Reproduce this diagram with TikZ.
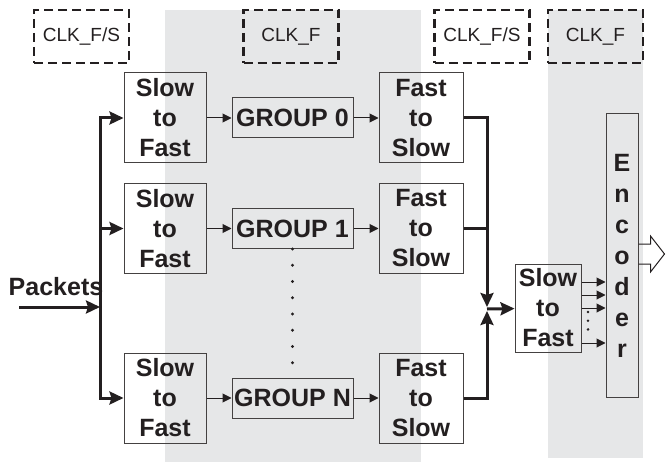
\documentclass[tikz,border=0pt]{standalone}
\usepackage{fontspec}
\setmainfont{Liberation Sans}
\usetikzlibrary{positioning,arrows.meta,calc}
\definecolor{fondo}{HTML}{E6E7E8}
\definecolor{tinta}{HTML}{231F20}

\begin{document}
\begin{tikzpicture}[x=1pt, y=-1pt, tinta,
      b/.style={draw=tinta!85, line width=1pt, inner sep=0pt, align=center,
                font=\fontsize{25}{30}\selectfont\bfseries},
      sf/.style={b, minimum width=82pt, minimum height=90pt},
      gp/.style={b, minimum width=121pt, minimum height=40pt},
      clk/.style={draw, dash pattern=on 9pt off 5pt, line width=2.5pt, minimum width=95pt,
                  minimum height=53pt, font=\fontsize{19}{22}\selectfont},
      fl/.style={-{Triangle[length=9pt,width=9pt]}, line width=1pt},
      gr/.style={-{Stealth[length=14pt,width=13pt,inset=2pt]}, line width=3pt}]
    \useasboundingbox (0,0) rectangle (669,465);
    \fill[fondo] (165,10) rectangle (421,462);
    \fill[fondo] (548,10) rectangle (643,458);

    \node[clk] (c1) at (81.5,36.5) {CLK\_F/S};
    \node[clk] (c2) at (291,36.5) {CLK\_F};
    \node[clk] (c3) at (482,36.5) {CLK\_F/S};
    \node[clk] (c4) at (595.5,36.5) {CLK\_F};

    \node[sf] (sf0) at (165,118) {Slow\\to\\Fast};
    \node[gp, right=25pt of sf0] (g0) {GROUP 0};
    \node[sf, right=25pt of g0, minimum width=84pt] (fs0) {Fast\\to\\Slow};
    \node[sf] (sf1) at (165,228.5) {Slow\\to\\Fast};
    \node[gp, right=25pt of sf1] (g1) {GROUP 1};
    \node[sf, right=25pt of g1, minimum width=84pt] (fs1) {Fast\\to\\Slow};
    \node[sf] (sfN) at (165,398) {Slow\\to\\Fast};
    \node[gp, right=25pt of sfN] (gN) {GROUP N};
    \node[sf, right=25pt of gN, minimum width=84pt] (fsN) {Fast\\to\\Slow};

    \node[sf, minimum width=66pt, minimum height=88pt] (sf2) at (548,308) {Slow\\to\\Fast};
    \node[b, minimum width=32pt, minimum height=283pt,
          font=\fontsize{25}{31}\selectfont\bfseries] (enc) at (622,255.5) {E\\n\\c\\o\\d\\e\\r};

    \node[font=\fontsize{25}{30}\selectfont\bfseries] (pk) at (56,287) {Packets};
    \coordinate (pin) at (19,307);
    \coordinate (bus) at (100,307);
    \draw[gr] (pin) -- (bus);
    \draw[gr] (bus) |- (sf0);
    \draw[gr] (bus) |- (sfN);
    \draw[gr] (bus |- sf1) -- (sf1);

    \draw[fl] (sf0) -- (g0);
    \draw[fl] (g0) -- (fs0);
    \draw[fl] (sf1) -- (g1);
    \draw[fl] (g1) -- (fs1);
    \draw[fl] (sfN) -- (gN);
    \draw[fl] (gN) -- (fsN);
    \draw[line width=3.2pt, line cap=round, dash pattern=on 0pt off 16.25pt] (g1.south) -- (gN.north);

    \coordinate (m) at (487,309);
    \draw[gr] (fs0) -| ([yshift=2pt]m);
    \draw[gr] (fsN) -| ([yshift=-2pt]m);
    \draw[line width=3pt] (fs1) -- (fs1 -| m);
    \draw[gr] (m) -- (sf2);

    \foreach \yy in {282,295,308,343}
      \draw[fl] (sf2.east |- 0,\yy) -- (enc.west |- 0,\yy);
    \draw[line width=2.8pt, line cap=round, dash pattern=on 0pt off 8.7pt] (588,312) -- (588,338);

    \coordinate (out) at ([yshift=1.5pt]enc.east);
    \draw[line width=1pt, line join=miter] ($(out)+(0,-10)$) -- ++(12,0) -- ++(0,-8) -- ++(14,18)
      -- ++(-14,18) -- ++(0,-8) -- ++(-12,0);
  \end{tikzpicture}
\end{document}
